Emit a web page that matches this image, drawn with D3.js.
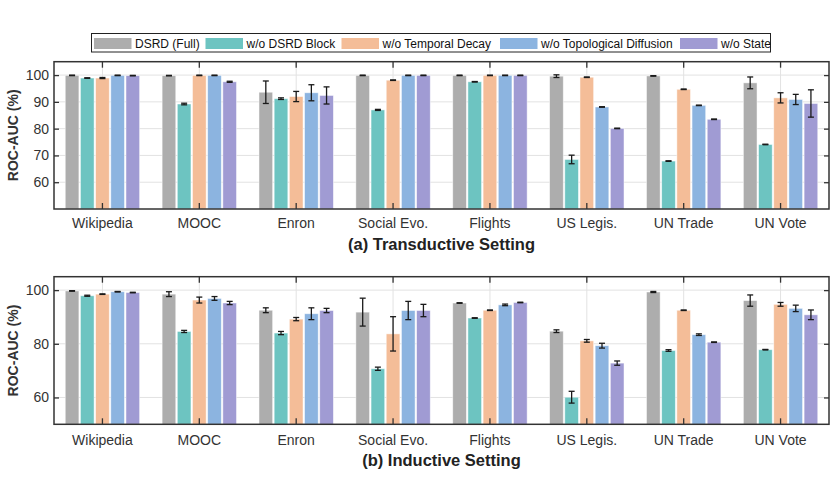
<!DOCTYPE html>
<html>
<head>
<meta charset="utf-8">
<script src="https://cdn.jsdelivr.net/npm/d3@7"></script>
<style>
  body { margin: 0; background: #fff; }
  svg { display: block; font-family: "Liberation Sans", Arial, sans-serif; }
</style>
</head>
<body>
<div id="chart"></div>
<script>
// ROC-AUC ablation, transductive vs inductive

const categories = ["Wikipedia", "MOOC", "Enron", "Social Evo.", "Flights", "US Legis.", "UN Trade", "UN Vote"];
const seriesNames = ["DSRD (Full)", "w/o DSRD Block", "w/o Temporal Decay", "w/o Topological Diffusion", "w/o State"];
const seriesColors = ["#adadad", "#6dc4c1", "#f4bd98", "#8cb4e0", "#a09bd3"];

// (a) transductive
const transFull    = [99.9, 99.8, 93.6, 99.9, 99.9, 99.6, 99.7, 97.1];
const transFullErr = [0.1, 0.1, 4.2, 0.1, 0.1, 0.5, 0.1, 2.2];
const transBlock    = [98.9, 89.2, 91.2, 87.0, 97.5, 68.5, 67.9, 74.1];
const transBlockErr = [0.1, 0.3, 0.3, 0.2, 0.1, 1.6, 0.1, 0.1];
const transDecay    = [98.9, 99.9, 92.0, 98.1, 99.9, 99.2, 94.7, 91.5];
const transDecayErr = [0.2, 0.1, 1.9, 0.1, 0.1, 0.1, 0.1, 1.9];
const transDiff    = [99.9, 99.9, 93.4, 99.9, 99.9, 88.1, 88.7, 90.9];
const transDiffErr = [0.1, 0.1, 3.0, 0.1, 0.1, 0.1, 0.1, 1.9];
const transState    = [99.8, 97.5, 92.4, 99.9, 99.9, 80.1, 83.5, 89.4];
const transStateErr = [0.1, 0.2, 3.2, 0.1, 0.1, 0.1, 0.1, 5.1];

// (b) inductive
const indFull    = [99.7, 98.5, 92.5, 91.8, 95.2, 84.7, 99.3, 96.1];
const indFullErr = [0.1, 0.9, 0.9, 5.2, 0.1, 0.5, 0.2, 2.1];
const indBlock    = [97.9, 84.6, 84.0, 70.7, 89.6, 60.1, 77.5, 77.8];
const indBlockErr = [0.2, 0.4, 0.6, 0.6, 0.1, 2.2, 0.3, 0.1];
const indDecay    = [98.5, 96.3, 89.2, 83.7, 92.5, 81.1, 92.5, 94.7];
const indDecayErr = [0.1, 1.1, 0.6, 6.4, 0.1, 0.5, 0.1, 0.7];
const indDiff    = [99.4, 96.9, 91.2, 92.4, 94.5, 79.3, 83.4, 93.2];
const indDiffErr = [0.1, 0.7, 2.2, 3.4, 0.3, 0.9, 0.3, 1.2];
const indState    = [99.1, 95.2, 92.4, 92.4, 95.4, 72.8, 80.6, 90.8];
const indStateErr = [0.1, 0.6, 0.8, 2.3, 0.1, 0.8, 0.1, 1.8];

const transTicks = [60, 70, 80, 90, 100];
const indTicks = [60, 80, 100];

const width = 838;
const height = 477;

const svg = d3.select("#chart")
  .append("svg")
  .attr("width", width)
  .attr("height", height);

// legend
const legendItems = [
  { name: seriesNames[0], x: 94 },
  { name: seriesNames[1], x: 205.5 },
  { name: seriesNames[2], x: 341.5 },
  { name: seriesNames[3], x: 500 },
  { name: seriesNames[4], x: 680 }
];

svg.append("rect")
  .attr("x", 91.5)
  .attr("y", 33.5)
  .attr("width", 679)
  .attr("height", 18.5)
  .attr("fill", "#fff")
  .attr("stroke", "#222")
  .attr("stroke-width", 1);

const legend = svg.selectAll(".legend")
  .data(legendItems)
  .enter()
  .append("g")
  .attr("transform", d => `translate(${d.x},38)`);

legend.append("rect")
  .attr("width", 37.5)
  .attr("height", 11)
  .attr("fill", (d, i) => seriesColors[i]);

legend.append("text")
  .attr("x", 41)
  .attr("y", 10)
  .style("font-size", "12px")
  .attr("fill", "#111")
  .text(d => d.name);

function drawPanel(top, bottom, means, errs, ticks, subtitle, labelY, subY){

  const left = 54;
  const right = 829;

  const x0 = d3.scaleBand()
    .domain(categories)
    .range([left, right])
    .padding(0);

  const x1 = d3.scaleBand()
    .domain(seriesNames)
    .range([-37.2, 37.2])
    .paddingInner(0.1);

  const y = d3.scaleLinear()
    .domain([50, 105])
    .range([bottom, top]);

  const g = svg.append("g");

  // grid
  g.selectAll(".hgrid")
    .data(ticks)
    .enter()
    .append("line")
    .attr("x1", left)
    .attr("x2", right)
    .attr("y1", d => y(d))
    .attr("y2", d => y(d))
    .attr("stroke", "#e2e2e2")
    .attr("stroke-width", 1);

  g.selectAll(".vgrid")
    .data(categories)
    .enter()
    .append("line")
    .attr("x1", d => x0(d) + x0.bandwidth() / 2)
    .attr("x2", d => x0(d) + x0.bandwidth() / 2)
    .attr("y1", top)
    .attr("y2", bottom)
    .attr("stroke", "#e2e2e2")
    .attr("stroke-width", 1);

  const rows = [];
  categories.forEach((c, ci) => {
    seriesNames.forEach((s, si) => {
      rows.push({ cat: c, series: s, si: si, value: means[si][ci], err: errs[si][ci] });
    });
  });

  const cx = d => x0(d.cat) + x0.bandwidth() / 2 + x1(d.series);

  g.selectAll(".bar")
    .data(rows)
    .enter()
    .append("rect")
    .attr("x", d => cx(d))
    .attr("y", d => y(d.value))
    .attr("width", x1.bandwidth())
    .attr("height", d => bottom - y(d.value))
    .attr("fill", d => seriesColors[d.si])
    .attr("stroke", "#fff")
    .attr("stroke-opacity", 0.6)
    .attr("stroke-width", 0.8);

  // error bars
  const eb = g.selectAll(".err")
    .data(rows)
    .enter()
    .append("g")
    .attr("stroke", "#1a1a1a")
    .attr("stroke-width", 1.3);

  const mid = d => cx(d) + x1.bandwidth() / 2;

  eb.append("line")
    .attr("x1", mid)
    .attr("x2", mid)
    .attr("y1", d => y(d.value - d.err))
    .attr("y2", d => y(d.value + d.err));

  eb.append("line")
    .attr("x1", d => mid(d) - 3)
    .attr("x2", d => mid(d) + 3)
    .attr("y1", d => y(d.value - d.err))
    .attr("y2", d => y(d.value - d.err));

  eb.append("line")
    .attr("x1", d => mid(d) - 3)
    .attr("x2", d => mid(d) + 3)
    .attr("y1", d => y(d.value + d.err))
    .attr("y2", d => y(d.value + d.err));

  // axes with inward ticks
  const yLeft = g.append("g")
    .attr("transform", `translate(${left},0)`)
    .call(d3.axisRight(y).tickValues(ticks).tickSize(5).tickFormat(""));
  yLeft.select(".domain").remove();

  const yRight = g.append("g")
    .attr("transform", `translate(${right},0)`)
    .call(d3.axisLeft(y).tickValues(ticks).tickSize(5).tickFormat(""));
  yRight.select(".domain").remove();

  g.selectAll(".ylab")
    .data(ticks)
    .enter()
    .append("text")
    .attr("x", left - 5)
    .attr("y", d => y(d) + 5)
    .attr("text-anchor", "end")
    .style("font-size", "14px")
    .attr("fill", "#333")
    .text(d => d);

  const xTop = g.append("g")
    .attr("transform", `translate(0,${top})`)
    .call(d3.axisBottom(x0).tickSize(6).tickFormat(""));
  xTop.select(".domain").remove();

  const xBot = g.append("g")
    .attr("transform", `translate(0,${bottom})`)
    .call(d3.axisTop(x0).tickSize(6).tickFormat(""));
  xBot.select(".domain").remove();

  g.selectAll(".tick line")
    .attr("stroke", "#333")
    .attr("stroke-width", 1.3);

  g.append("rect")
    .attr("x", left)
    .attr("y", top)
    .attr("width", right - left)
    .attr("height", bottom - top)
    .attr("fill", "none")
    .attr("stroke", "#333")
    .attr("stroke-width", 1.5);

  g.selectAll(".xlab")
    .data(categories)
    .enter()
    .append("text")
    .attr("x", d => x0(d) + x0.bandwidth() / 2)
    .attr("y", labelY)
    .attr("text-anchor", "middle")
    .style("font-size", "14px")
    .attr("fill", "#333")
    .text(d => d);

  g.append("text")
    .attr("transform", "rotate(-90)")
    .attr("x", -(top + bottom) / 2)
    .attr("y", 18)
    .attr("text-anchor", "middle")
    .style("font-size", "14px")
    .style("font-weight", "bold")
    .attr("fill", "#333")
    .text("ROC-AUC (%)");

  g.append("text")
    .attr("x", (left + right) / 2)
    .attr("y", subY)
    .attr("text-anchor", "middle")
    .style("font-size", "16.5px")
    .style("font-weight", "bold")
    .attr("fill", "#222")
    .text(subtitle);
}

drawPanel(61.7, 209,
  [transFull, transBlock, transDecay, transDiff, transState],
  [transFullErr, transBlockErr, transDecayErr, transDiffErr, transStateErr],
  transTicks, "(a) Transductive Setting", 228, 250);

drawPanel(276.7, 424.3,
  [indFull, indBlock, indDecay, indDiff, indState],
  [indFullErr, indBlockErr, indDecayErr, indDiffErr, indStateErr],
  indTicks, "(b) Inductive Setting", 445, 466);
</script>
</body>
</html>
